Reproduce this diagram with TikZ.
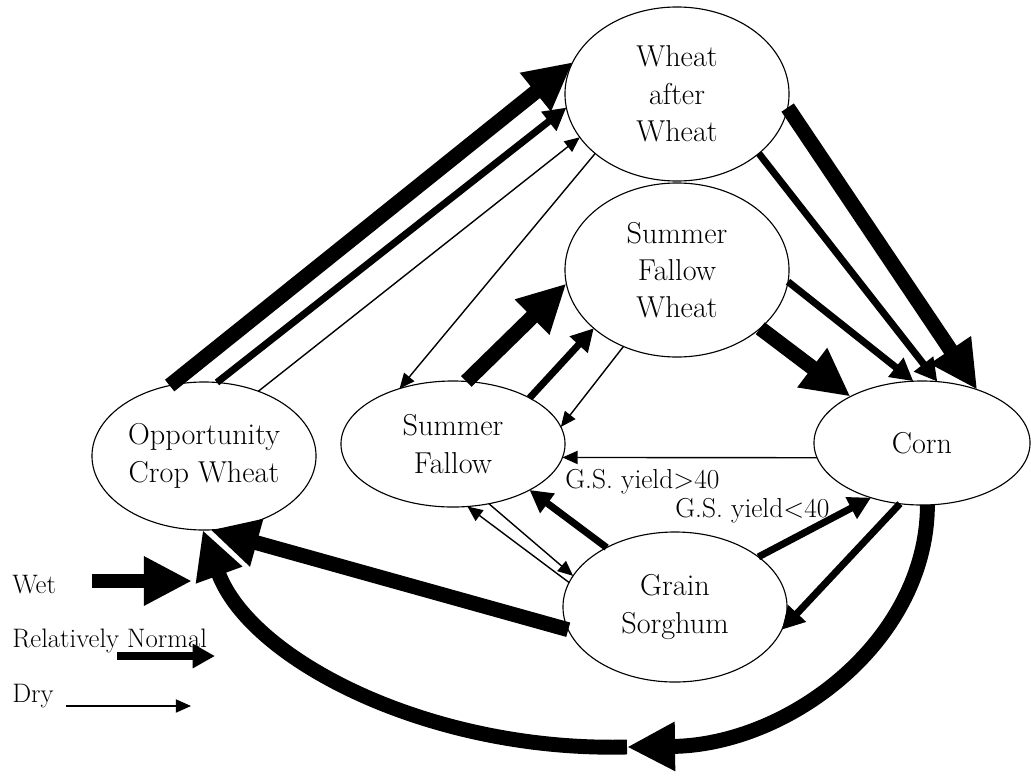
\documentclass[tikz,border=0pt]{standalone}
\usetikzlibrary{arrows.meta,shapes.geometric}

\begin{document}
\begin{tikzpicture}[x=0.025cm, y=-0.025cm,
    crop/.style={ellipse, draw, line width=0.8pt, inner sep=0pt, outer sep=0pt, align=center, font=\fontsize{21.5}{26.5}\selectfont},
    wetarrow/.style={line width=10.6pt, -{Triangle[length=1.2cm, width=1.15cm]}},
    normarrow/.style={line width=5pt, -{Triangle[length=0.56cm, width=0.58cm]}},
    dryarrow/.style={line width=1pt, -{Triangle[length=0.38cm, width=0.33cm]}},
    legtext/.style={anchor=base west, inner sep=0pt, font=\fontsize{19}{23}\selectfont},
    gslabel/.style={anchor=base west, inner sep=0pt, font=\fontsize{19.5}{23}\selectfont}]
    \def\cropwidth{5.6cm}

    \useasboundingbox (0,0) rectangle (1031,776);

    % the six crops
    \node[crop, minimum width=\cropwidth, minimum height=3.7cm] (opp) at (204,456) {Opportunity\\Crop Wheat};
    \node[crop, minimum width=\cropwidth, minimum height=3.15cm] (sf) at (453,444) {Summer\\Fallow};
    \node[crop, minimum width=\cropwidth, minimum height=4.35cm] (ww) at (677,94) {Wheat\\after\\Wheat};
    \node[crop, minimum width=\cropwidth, minimum height=4.35cm] (sfw) at (677,270) {Summer\\Fallow\\Wheat};
    \node[crop, minimum width=5.4cm, minimum height=3.1cm] (corn) at (922,443) {Corn};
    \node[crop, minimum width=\cropwidth, minimum height=3.75cm] (gs) at (675,607) {Grain\\Sorghum};

    % into wheat after wheat and summer fallow wheat
    \draw[wetarrow] (opp.116) -- (ww.163);
    \draw[normarrow] (opp.80) -- (ww.187);
    \draw[dryarrow] (opp.50) -- (ww.204);
    \draw[dryarrow] (ww.216) -- (sf.134);
    \draw[wetarrow] (sf.78) -- (sfw.187);
    \draw[normarrow] (sf.31) -- (sfw.215);
    \draw[dryarrow] (sfw.235) -- (sf.9);

    % into corn
    \draw[wetarrow] (ww.-7) -- (corn.44);
    \draw[normarrow] (ww.-36) -- (corn.76);
    \draw[normarrow] (sfw.-6) -- (corn.98);
    \draw[wetarrow] (sfw.-35) -- (corn.147);

    % corn and grain sorghum
    \draw[dryarrow] (corn.188) -- (sf.-7);
    \node[gslabel] (gshigh) at (565,488) {G.S. yield\textgreater40};
    \draw[normarrow] (gs.139) -- (sf.-31);
    \draw[dryarrow] (sf.-59) -- (gs.163);
    \draw[dryarrow] (gs.167) -- (sf.-77);
    \draw[normarrow] (gs.31) -- (corn.227);
    \node[gslabel] (gslow) at (675,517) {G.S. yield\textless40};
    \draw[normarrow] (corn.250) -- (gs.-12);
    \draw[wetarrow] (gs.192) -- (opp.-85);

    % long way round from corn
    \coordinate (loop) at (627,747);
    \draw[wetarrow] (corn.-85) .. controls (927,640) and (790,745) .. (loop);
    \draw[wetarrow] (loop) .. controls (430,752) and (250,660) .. (opp.-91);

    % legend
    \node[legtext] (wet) at (12,593) {Wet};
    \node[legtext] (norm) at (12,647) {Relatively Normal};
    \node[legtext] (dry) at (12,702) {Dry};
    \coordinate (wetA) at (92,581);
    \coordinate (wetB) at (192,581);
    \coordinate (normA) at (117,656);
    \coordinate (normB) at (215,656);
    \coordinate (dryA) at (66,706);
    \coordinate (dryB) at (191,706);
    \draw[wetarrow] (wetA) -- (wetB);
    \draw[normarrow] (normA) -- (normB);
    \draw[dryarrow] (dryA) -- (dryB);
\end{tikzpicture}
\end{document}
